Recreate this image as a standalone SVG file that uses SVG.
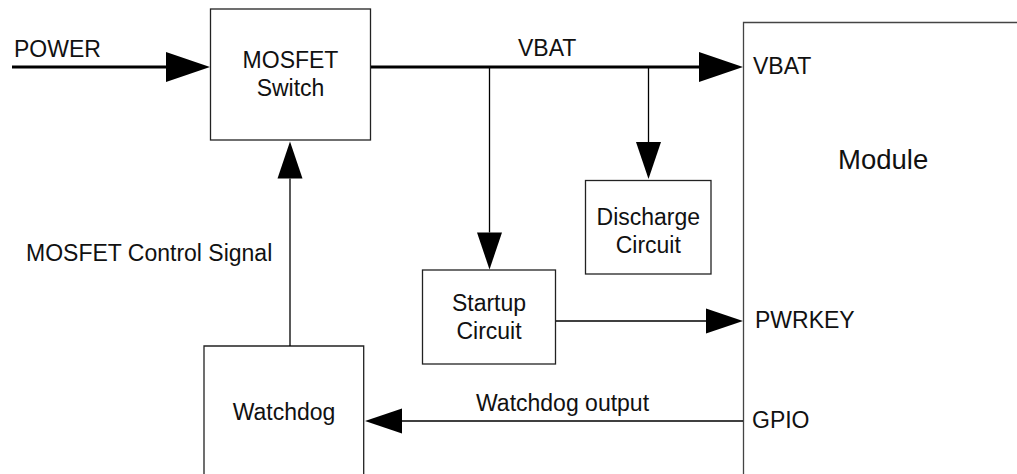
<svg xmlns="http://www.w3.org/2000/svg" width="1017" height="474" viewBox="0 0 1017 474">
<style>
text{font-family:"Liberation Sans",Arial,sans-serif;font-size:23px;fill:#111}
.c{text-anchor:middle}
.box{fill:#fff;stroke:#222;stroke-width:1.3}
.thick{stroke:#000;stroke-width:3.2;fill:none}
.thin{stroke:#000;stroke-width:1.3;fill:none}
</style>
<defs>
<marker id="big" markerUnits="userSpaceOnUse" markerWidth="46" markerHeight="32" refX="0" refY="15" orient="auto" overflow="visible"><path d="M0,0 L44,15 L0,30 z" fill="#000"/></marker>
<marker id="small" markerUnits="userSpaceOnUse" markerWidth="40" markerHeight="26" refX="0" refY="12.5" orient="auto" overflow="visible"><path d="M0,0 L37,12.5 L0,25 z" fill="#000"/></marker>
</defs>
<rect width="1017" height="474" fill="#fff"/>

<g id="module">
<path d="M743.5,474 V22.5 H1017" fill="none" stroke="#444" stroke-width="1.3"/>
<text x="753" y="74">VBAT</text>
<text x="838" y="169" style="font-size:27.5px">Module</text>
<text x="755" y="328">PWRKEY</text>
<text x="752" y="428">GPIO</text>
</g>
<g id="mosfet">
<rect class="box" x="210.5" y="9" width="160" height="131"/>
<text class="c" x="290.5" y="68">MOSFET</text>
<text class="c" x="290.5" y="96">Switch</text>
</g>
<g id="discharge">
<rect class="box" x="585.5" y="180.5" width="125.5" height="93.5"/>
<text class="c" x="648.3" y="225">Discharge</text>
<text class="c" x="648.3" y="252.5">Circuit</text>
</g>
<g id="startup">
<rect class="box" x="422.5" y="270" width="133" height="94"/>
<text class="c" x="489" y="311">Startup</text>
<text class="c" x="489" y="339">Circuit</text>
</g>
<g id="watchdog">
<path class="box" d="M204,474 V346 H363.7 V474"/>
<text class="c" x="284" y="420">Watchdog</text>
</g>
<g id="connectors">
<line class="thick" x1="12" y1="67" x2="166" y2="67" marker-end="url(#big)"/>
<line class="thick" x1="371" y1="67" x2="699" y2="67" marker-end="url(#big)"/>
<line class="thin" x1="648.5" y1="67" x2="648.5" y2="142" marker-end="url(#small)"/>
<line class="thin" x1="489.5" y1="67" x2="489.5" y2="232.5" marker-end="url(#small)"/>
<line class="thin" x1="556" y1="321" x2="706" y2="321" marker-end="url(#small)"/>
<line class="thin" x1="743" y1="421" x2="402" y2="421" marker-end="url(#small)"/>
<line class="thin" x1="290" y1="346" x2="290" y2="178.5" marker-end="url(#small)"/>
<text x="14" y="57">POWER</text>
<text x="518" y="56">VBAT</text>
<text x="26" y="261">MOSFET Control Signal</text>
<text x="476" y="411">Watchdog output</text>
</g>
</svg>
